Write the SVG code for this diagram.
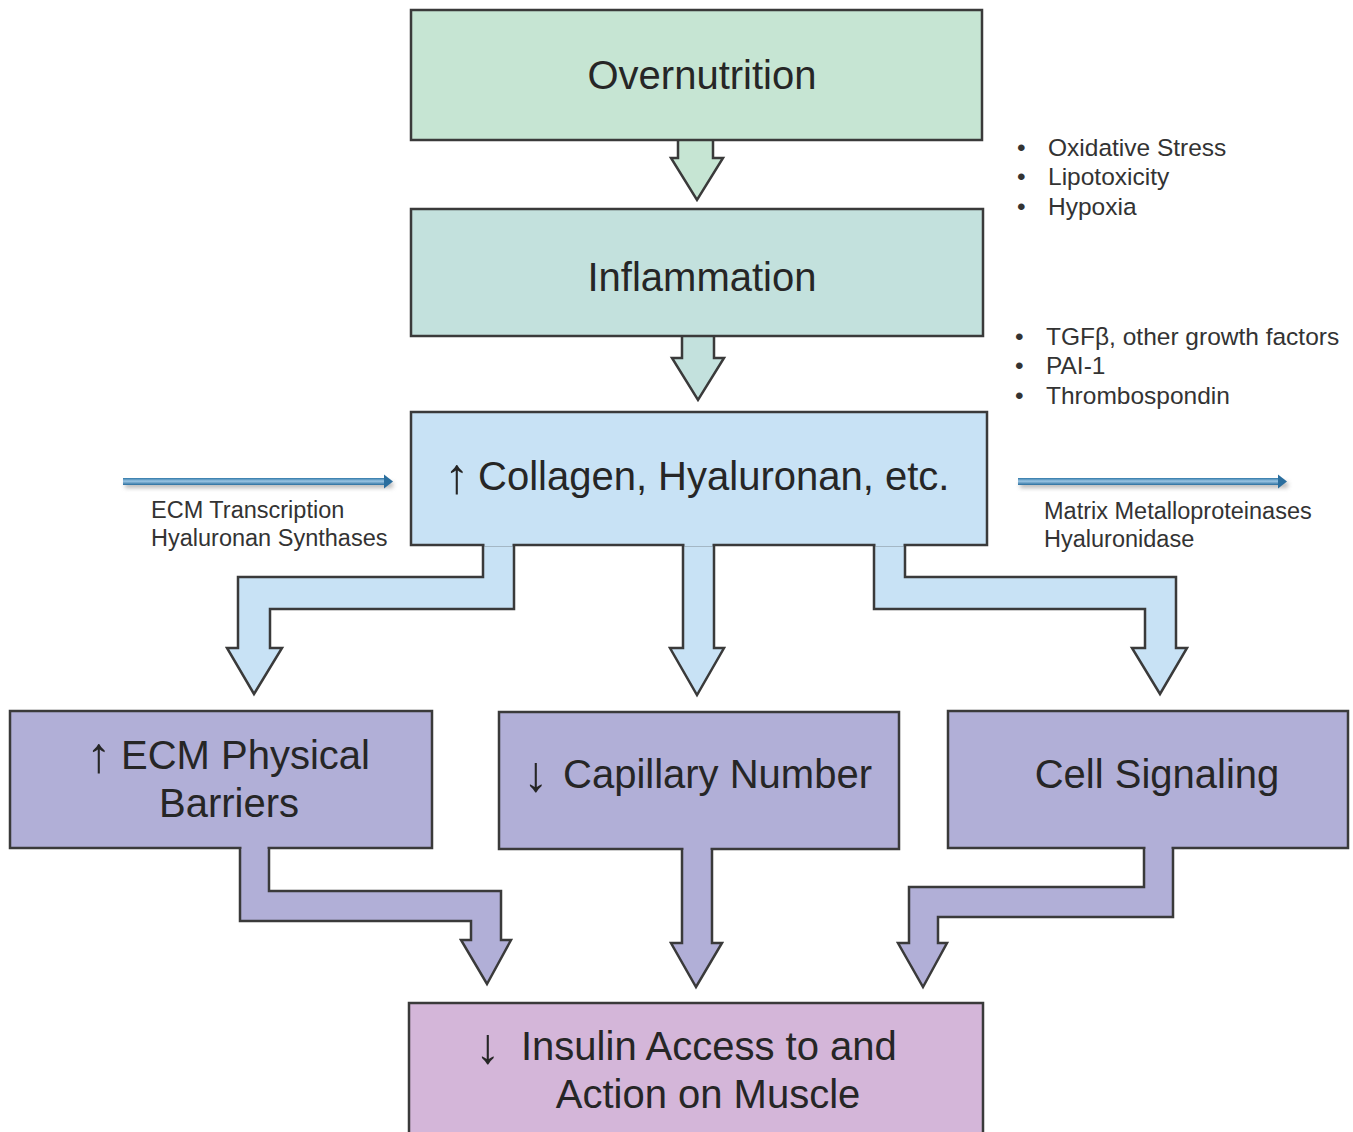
<svg xmlns="http://www.w3.org/2000/svg" width="1353" height="1132" viewBox="0 0 1353 1132">
<style>
.box{stroke:#3a3a3a;stroke-width:2.5}
.arr{stroke:#3a3a3a;stroke-width:2.5;stroke-linejoin:miter}
.big{font-family:"Liberation Sans",Arial,sans-serif;font-size:40px;fill:#262626;text-anchor:middle}
.st{text-anchor:start}
.ag{font-family:"Liberation Sans",Arial,sans-serif;font-size:50px;fill:#262626;text-anchor:middle}
.sm{font-family:"Liberation Sans",Arial,sans-serif;font-size:23.5px;fill:#333}
.bul{font-family:"Liberation Sans",Arial,sans-serif;font-size:24.5px;fill:#333}
</style>
<defs>
<linearGradient id="bl" x1="0" y1="0" x2="0" y2="1">
<stop offset="0" stop-color="#2f78a8"/>
<stop offset="0.45" stop-color="#9cc6e4"/>
<stop offset="1" stop-color="#2a6e9e"/>
</linearGradient>
<filter id="sh" x="-5%" y="-100%" width="110%" height="300%">
<feGaussianBlur stdDeviation="2"/>
</filter>
</defs>
<rect width="1353" height="1132" fill="#fff"/>

<g id="connectors">
<path class="arr" fill="#c6e5d3" d="M678,139 L678,158 L671,158 L697,200 L723,158 L713,158 L713,139"/>
<path class="arr" fill="#c3e1dd" d="M682,335 L682,358 L672,358 L698,400 L724,358 L714,358 L714,335"/>
<path class="arr" fill="#c8e2f5" d="M483,544 L483,577 L238,577 L238,648 L227,648 L254,694 L282,648 L270,648 L270,609 L514,609 L514,544"/>
<path class="arr" fill="#c8e2f5" d="M683,544 L683,648 L670,648 L697,695 L724,648 L714,648 L714,544"/>
<path class="arr" fill="#c8e2f5" d="M874,544 L874,609 L1145,609 L1145,648 L1132,648 L1160,694 L1187,648 L1176,648 L1176,577 L905,577 L905,544"/>
<path class="arr" fill="#b1afd7" d="M240,847 L240,921 L471,921 L471,940 L461,940 L487,984 L511,940 L501,940 L501,891 L269,891 L269,847"/>
<path class="arr" fill="#b1afd7" d="M682,848 L682,943 L671,943 L696,987 L722,943 L712,943 L712,848"/>
<path class="arr" fill="#b1afd7" d="M1144,847 L1144,887 L909,887 L909,943 L898,943 L923,987 L947,943 L938,943 L938,917 L1173,917 L1173,847"/>
<g id="arrow-left">
<rect x="125" y="482" width="268" height="6" fill="#777" opacity="0.5" filter="url(#sh)"/>
<rect x="123" y="478" width="263" height="7" fill="url(#bl)"/>
<path d="M384,474.5 L393,481.5 L384,488.5 Z" fill="#2a6e9e"/>
</g>
<g id="arrow-right">
<rect x="1020" y="482" width="268" height="6" fill="#777" opacity="0.5" filter="url(#sh)"/>
<rect x="1018" y="478" width="262" height="7" fill="url(#bl)"/>
<path d="M1278,474.5 L1287,481.5 L1278,488.5 Z" fill="#2a6e9e"/>
</g>
</g>

<g id="overnutrition">
<rect class="box" x="411" y="10" width="571" height="130" fill="#c6e5d3"/>
<text class="big" x="702" y="89">Overnutrition</text>
</g>
<g id="inflammation">
<rect class="box" x="411" y="209" width="572" height="127" fill="#c3e1dd"/>
<text class="big" x="702" y="291">Inflammation</text>
</g>
<g id="collagen">
<rect class="box" x="411" y="412" width="576" height="133" fill="#c8e2f5"/>
<text class="ag" x="457" y="493">↑</text>
<text class="big st" x="478" y="490">Collagen, Hyaluronan, etc.</text>
</g>
<path fill="#c8e2f5" d="M484.5,543 H512.5 V546 H484.5 Z M684.5,543 H712.5 V546 H684.5 Z M875.5,543 H903.5 V546 H875.5 Z"/>

<g id="ecm-barriers">
<rect class="box" x="10" y="711" width="422" height="137" fill="#b1afd7"/>
<text class="ag" x="99" y="772">↑</text>
<text class="big st" x="121" y="769">ECM Physical</text>
<text class="big" x="229" y="817">Barriers</text>
</g>
<g id="capillary">
<rect class="box" x="499" y="712" width="400" height="137" fill="#b1afd7"/>
<text class="ag" x="536" y="791">↓</text>
<text class="big st" x="563" y="788">Capillary Number</text>
</g>
<g id="cell-signaling">
<rect class="box" x="948" y="711" width="400" height="137" fill="#b1afd7"/>
<text class="big" x="1157" y="788">Cell Signaling</text>
</g>
<path fill="#b1afd7" d="M241.5,846 H267.5 V850 H241.5 Z M683.5,847 H710.5 V851 H683.5 Z M1145.5,846 H1171.5 V850 H1145.5 Z"/>

<g id="insulin">
<rect class="box" x="409" y="1003" width="574" height="140" fill="#d4b6d9"/>
<text class="ag" x="488" y="1063">↓</text>
<text class="big st" x="521" y="1060">Insulin Access to and</text>
<text class="big" x="708" y="1108">Action on Muscle</text>
</g>

<g id="label-left">
<text class="sm" x="151" y="518">ECM Transcription</text>
<text class="sm" x="151" y="546">Hyaluronan Synthases</text>
</g>
<g id="label-right">
<text class="sm" x="1044" y="519">Matrix Metalloproteinases</text>
<text class="sm" x="1044" y="547">Hyaluronidase</text>
</g>
<g id="bullets-1">
<text class="bul" x="1017" y="156">•</text><text class="bul" x="1048" y="156">Oxidative Stress</text>
<text class="bul" x="1017" y="185">•</text><text class="bul" x="1048" y="185">Lipotoxicity</text>
<text class="bul" x="1017" y="215">•</text><text class="bul" x="1048" y="215">Hypoxia</text>
</g>
<g id="bullets-2">
<text class="bul" x="1015" y="345">•</text><text class="bul" x="1046" y="345">TGFβ, other growth factors</text>
<text class="bul" x="1015" y="374">•</text><text class="bul" x="1046" y="374">PAI-1</text>
<text class="bul" x="1015" y="404">•</text><text class="bul" x="1046" y="404">Thrombospondin</text>
</g>
</svg>
